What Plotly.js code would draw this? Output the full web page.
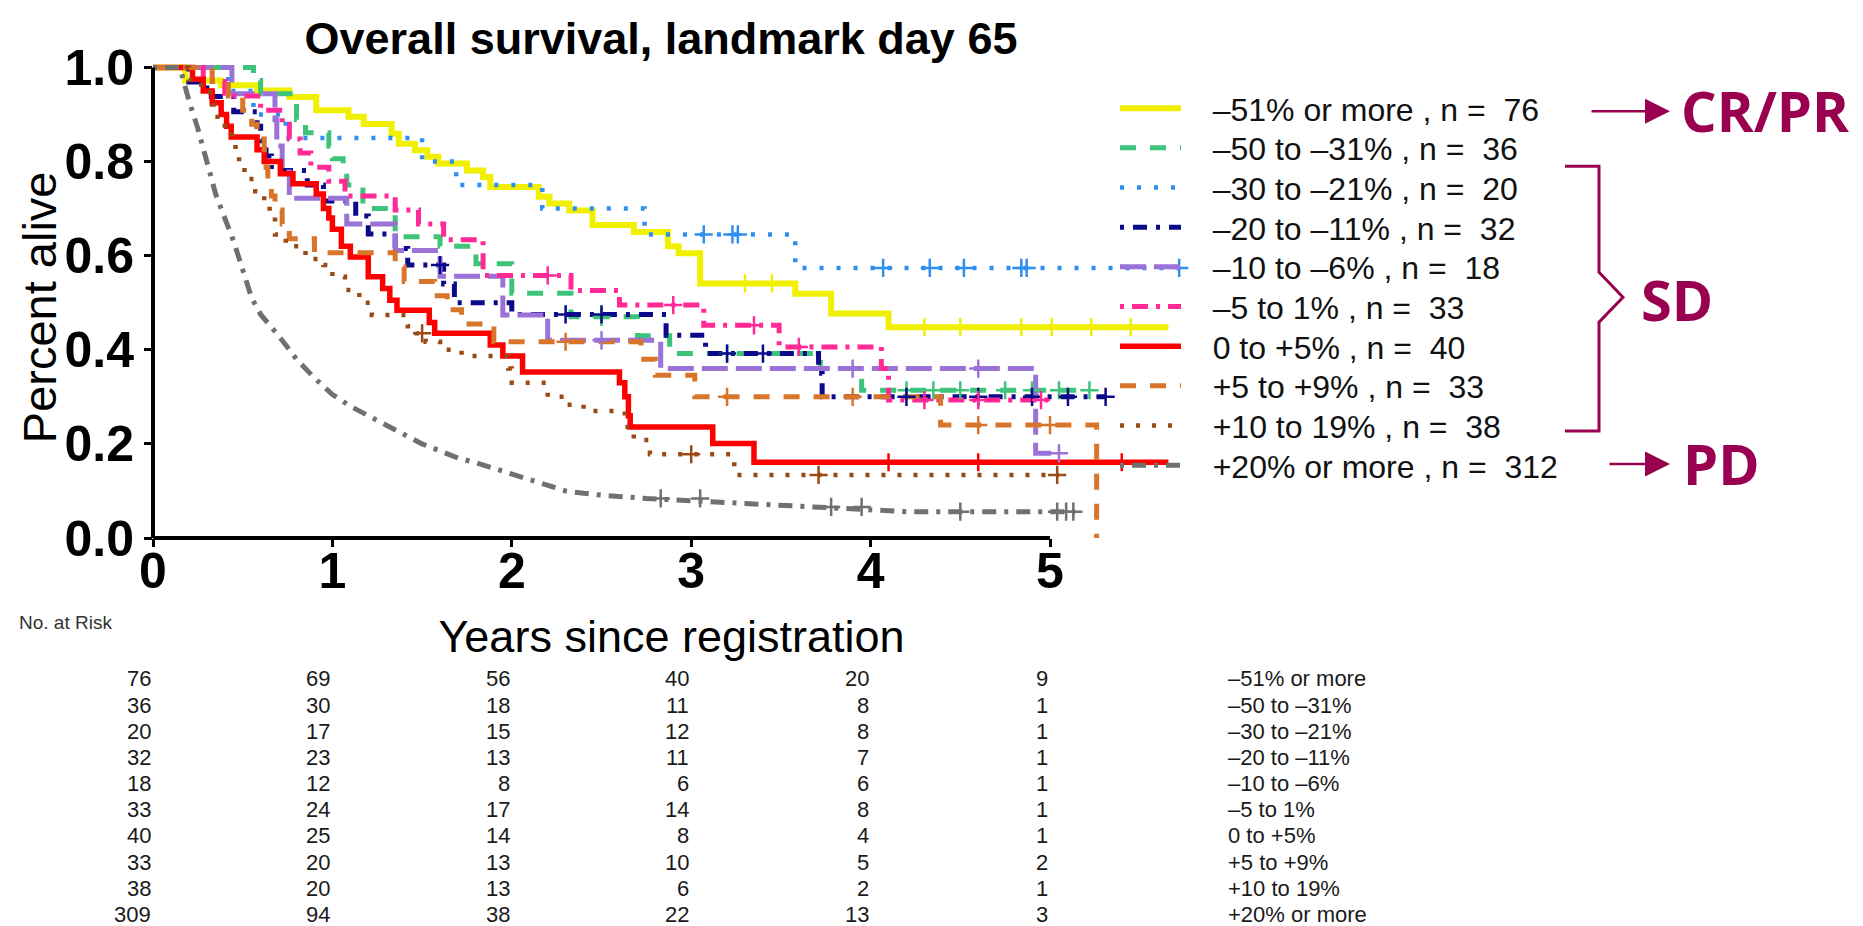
<!DOCTYPE html>
<html><head><meta charset="utf-8">
<script src="https://cdn.plot.ly/plotly-3.0.1.min.js"></script>
<style>html,body{margin:0;padding:0;background:#fff}</style>
</head><body><div id="chart" style="width:1863px;height:926px"></div>
<script>
// ---------- data ----------
const groups = ["–51% or more", "–50 to –31%", "–30 to –21%", "–20 to –11%", "–10 to –6%",
                "–5 to 1%", "0 to +5%", "+5 to +9%", "+10 to 19%", "+20% or more"];
const nPatients = [76, 36, 20, 32, 18, 33, 40, 33, 38, 312];

const t_m51 = [0,0.18,0.38,0.58,0.76,0.91,1.09,1.175,1.33,1.37,1.46,1.53,1.59,1.75,1.84,1.88,2.15,2.21,2.32,2.45,2.68,2.87,2.93,3.05,3.58,3.78,4.1,5.66];
const s_m51 = [1,0.972,0.962,0.951,0.937,0.909,0.895,0.88,0.859,0.838,0.824,0.81,0.796,0.781,0.767,0.746,0.725,0.711,0.696,0.665,0.65,0.62,0.605,0.541,0.519,0.477,0.448,0.448];
const c_m51 = [3.3, 3.45, 4.3, 4.5, 4.84, 5.01, 5.23, 5.45];

const t_m50 = [0,0.56,0.6,0.78,0.8,0.85,0.98,1.0,1.06,1.08,1.17,1.35,1.6,1.8,2.0,2.33,2.7,2.88,3.72,3.95,5.22];
const s_m50 = [1,0.972,0.944,0.917,0.889,0.861,0.833,0.806,0.778,0.75,0.70,0.64,0.62,0.583,0.52,0.47,0.43,0.392,0.36,0.314,0.314];
const c_m50 = [2.5, 3.2, 4.2, 4.35, 4.5, 4.75, 4.9, 5.05, 5.22];

const t_m30 = [0,0.42,0.56,0.74,1.5,1.69,2.17,2.74,3.58,5.72];
const s_m30 = [1,0.95,0.90,0.85,0.80,0.75,0.70,0.645,0.574,0.574];
const c_m30 = [3.07, 3.23, 3.26, 4.07, 4.33, 4.52, 4.84, 4.87, 5.72];

const t_m20 = [0,0.2,0.3,0.45,0.58,0.6,0.63,0.66,0.86,0.95,1.13,1.2,1.35,1.42,1.62,1.68,2.0,2.86,3.08,3.71,3.73,5.31];
const s_m20 = [1,0.969,0.938,0.906,0.875,0.844,0.812,0.781,0.75,0.716,0.684,0.646,0.615,0.58,0.54,0.50,0.475,0.431,0.392,0.35,0.30,0.30];
const c_m20 = [1.6, 2.3, 2.5, 3.2, 3.4, 4.2, 4.6, 4.9, 5.1, 5.31];

const t_m10 = [0,0.44,0.68,0.69,0.72,0.76,1.08,1.35,1.6,1.95,2.2,2.83,4.92,5.05];
const s_m10 = [1,0.944,0.889,0.833,0.778,0.722,0.667,0.611,0.556,0.474,0.42,0.36,0.18,0.18];
const c_m10 = [2.5, 3.9, 4.6, 5.05];

const t_m5 = [0,0.28,0.40,0.6,0.72,0.76,0.82,0.88,0.98,1.07,1.35,1.48,1.62,1.84,2.33,2.6,3.07,3.49,4.06,4.1,5.0];
const s_m5 = [1,0.97,0.939,0.909,0.879,0.848,0.818,0.788,0.758,0.727,0.697,0.667,0.634,0.558,0.526,0.495,0.452,0.406,0.36,0.293,0.293];
const c_m5 = [2.2, 2.9, 3.35, 3.6, 4.3, 4.6, 4.95];

const t_p0 = [0,0.22,0.28,0.33,0.38,0.41,0.436,0.58,0.62,0.71,0.78,0.91,0.95,0.98,1.0,1.05,1.1,1.2,1.28,1.32,1.36,1.54,1.57,1.88,1.95,2.06,2.6,2.63,2.65,2.66,3.12,3.35,5.66];
const s_p0 = [1,0.975,0.95,0.925,0.90,0.875,0.852,0.825,0.80,0.774,0.753,0.731,0.70,0.68,0.656,0.62,0.597,0.555,0.53,0.505,0.484,0.458,0.435,0.41,0.387,0.353,0.33,0.30,0.26,0.236,0.201,0.161,0.161];
const c_p0 = [4.1, 4.6, 5.4];

const t_p5 = [0,0.33,0.42,0.5,0.55,0.58,0.62,0.63,0.64,0.66,0.68,0.72,0.76,0.9,1.35,1.4,1.57,1.64,1.72,1.9,2.72,2.8,3.02,4.39,5.26];
const s_p5 = [1,0.97,0.939,0.909,0.879,0.848,0.818,0.788,0.758,0.727,0.697,0.667,0.636,0.606,0.576,0.545,0.515,0.485,0.455,0.417,0.38,0.346,0.30,0.24,0];
const c_p5 = [2.3, 3.2, 3.9, 4.6, 5.0];

const t_p10 = [0,0.2,0.27,0.33,0.36,0.40,0.44,0.46,0.48,0.51,0.57,0.62,0.65,0.68,0.74,0.85,0.95,1.0,1.07,1.15,1.22,1.42,1.47,1.52,1.6,1.72,1.98,2.0,2.2,2.3,2.4,2.63,2.68,2.77,3.24,5.05];
const s_p10 = [1,0.974,0.947,0.921,0.895,0.868,0.842,0.816,0.79,0.763,0.737,0.71,0.684,0.645,0.62,0.593,0.58,0.555,0.527,0.50,0.474,0.45,0.435,0.417,0.40,0.387,0.36,0.33,0.30,0.283,0.27,0.236,0.208,0.178,0.134,0.134];
const c_p10 = [1.5, 3.0, 3.71, 5.04];

const t_p20 = [0,0.15,0.2,0.25,0.3,0.35,0.4,0.45,0.5,0.55,0.6,0.7,0.8,0.9,1.0,1.1,1.2,1.3,1.4,1.5,1.6,1.7,1.8,1.9,2.0,2.1,2.2,2.3,2.4,2.5,2.75,3.1,3.7,4.2,5.14];
const s_p20 = [1,1,0.93,0.87,0.80,0.73,0.68,0.63,0.57,0.51,0.475,0.43,0.38,0.34,0.305,0.28,0.26,0.24,0.22,0.20,0.185,0.17,0.16,0.148,0.135,0.123,0.11,0.10,0.095,0.091,0.084,0.077,0.066,0.056,0.056];
const c_p20 = [2.83, 3.05, 3.78, 3.95, 4.5, 5.04, 5.09, 5.13];

// numbers at risk at years 0..5
const riskYears = [0, 1, 2, 3, 4, 5];
const risk_m51 = [76, 69, 56, 40, 20, 9];
const risk_m50 = [36, 30, 18, 11, 8, 1];
const risk_m30 = [20, 17, 15, 12, 8, 1];
const risk_m20 = [32, 23, 13, 11, 7, 1];
const risk_m10 = [18, 12, 8, 6, 6, 1];
const risk_m5  = [33, 24, 17, 14, 8, 1];
const risk_p0  = [40, 25, 14, 8, 4, 1];
const risk_p5  = [33, 20, 13, 10, 5, 2];
const risk_p10 = [38, 20, 13, 6, 2, 1];
const risk_p20 = [309, 94, 38, 22, 13, 3];

const xTicks = [0, 1, 2, 3, 4, 5];
const yTicks = [0, 0.2, 0.4, 0.6, 0.8, 1.0];

// ---------- styles ----------
const times = [t_m51, t_m50, t_m30, t_m20, t_m10, t_m5, t_p0, t_p5, t_p10, t_p20];
const surv  = [s_m51, s_m50, s_m30, s_m20, s_m10, s_m5, s_p0, s_p5, s_p10, s_p20];
const cens  = [c_m51, c_m50, c_m30, c_m20, c_m10, c_m5, c_p0, c_p5, c_p10, c_p20];
const risks = [risk_m51, risk_m50, risk_m30, risk_m20, risk_m10, risk_m5, risk_p0, risk_p5, risk_p10, risk_p20];
const colors = ["#f0f000", "#3dc47a", "#2f8ff0", "#0a0a8a", "#9b72d8", "#ff2a96", "#ff0000", "#d8752a", "#9a4a14", "#707070"];
const dashes = ["solid", "16px,14px", "4px,13px", "4px,9px,14px,9px", "26px,8px", "4px,8px,16px,8px", "solid", "16px,14px", "4px,12px", "4px,8px,14px,8px"];
const widths = [6, 5, 4.5, 5, 5, 5, 5.5, 5, 4.5, 5];

// geometry helpers (pixel -> paper)
const W = 1863, H = 926;
const L = 153, R = 1190, B = 538, YPX = 471; // y=0 at 538px, 1 unit = 471px
const XPX = 179.4;
const topPx = B - 1.02 * YPX;
const px2x = X => (X - L) / (R - L);
const px2y = Y => (B - Y) / (B - topPx);
const yr2x = t => px2x(L + t * XPX);

// value of a step curve at time t (last step at or before t)
function stepAt(ts, ss, t) { let v = ss[0]; for (let k = 0; k < ts.length; k++) { if (ts[k] <= t) v = ss[k]; } return v; }

const pad = "\u00a0\u00a0\u00a0";
const traces = [];
groups.forEach((g, i) => {
  traces.push({
    type: "scatter", mode: "lines",
    x: times[i], y: surv[i],
    name: pad + g + " , n =\u00a0 " + nPatients[i],
    legend: i === 0 ? "legend" : "legend" + (i + 1),
    legendgroup: "g" + i,
    line: {color: colors[i], width: widths[i], dash: dashes[i], shape: i === 9 ? "linear" : "hv"},
    hoverinfo: "x+y+name"
  });
});
groups.forEach((g, i) => {
  traces.push({
    type: "scatter", mode: "markers", showlegend: false, legendgroup: "g" + i,
    legend: i === 0 ? "legend" : "legend" + (i + 1),
    x: cens[i], y: cens[i].map(t => stepAt(times[i], surv[i], t)),
    name: g + " (censored)",
    marker: {symbol: "cross-thin", size: 13, color: colors[i], line: {color: colors[i], width: 2.5}},
    hoverinfo: "x+y+name"
  });
});

const annotations = [];
const txtFont = {family: "Liberation Sans Narrow, Liberation Sans, Arial, sans-serif", size: 22, color: "#1a1a1a"};
risks.forEach((row, i) => {
  const y = px2y(679 + 26.2 * i);
  row.forEach((v, j) => {
    annotations.push({xref: "paper", yref: "paper", x: yr2x(riskYears[j]), y: y, xanchor: "right", yanchor: "middle",
      text: String(v), showarrow: false, font: txtFont});
  });
  annotations.push({xref: "paper", yref: "paper", x: px2x(1226), y: y, xanchor: "left", yanchor: "middle",
    text: groups[i], showarrow: false, font: txtFont});
});
annotations.push({xref: "paper", yref: "paper", x: px2x(17), y: px2y(623), xanchor: "left", yanchor: "middle",
  text: "No. at Risk", showarrow: false, font: {family: "Liberation Sans, Arial, sans-serif", size: 19, color: "#333"}});
// y-axis title
annotations.push({xref: "paper", yref: "paper", x: px2x(39), y: px2y(307), xanchor: "center", yanchor: "middle", textangle: -90,
  text: "Percent alive", showarrow: false, font: {family: "Liberation Sans, Arial, sans-serif", size: 47, color: "#000"}});

const maroon = "#990050";
const bigFont = {family: "Open Sans, Noto Sans, sans-serif", size: 56, color: maroon, weight: 700};
annotations.push({xref: "paper", yref: "paper", x: px2x(1679), y: px2y(110), xanchor: "left", yanchor: "middle", text: "CR/PR", showarrow: false, font: bigFont});
annotations.push({xref: "paper", yref: "paper", x: px2x(1639), y: px2y(299), xanchor: "left", yanchor: "middle", text: "SD", showarrow: false, font: bigFont});
annotations.push({xref: "paper", yref: "paper", x: px2x(1681), y: px2y(463), xanchor: "left", yanchor: "middle", text: "PD", showarrow: false, font: bigFont});
annotations.push({xref: "paper", yref: "paper", x: px2x(1670), y: px2y(111), text: "", showarrow: true,
  ax: -80, ay: 0, arrowhead: 2, arrowsize: 2, arrowwidth: 2.5, arrowcolor: maroon});
annotations.push({xref: "paper", yref: "paper", x: px2x(1670), y: px2y(464), text: "", showarrow: true,
  ax: -62, ay: 0, arrowhead: 2, arrowsize: 2, arrowwidth: 2.5, arrowcolor: maroon});

const bracketPts = [[1565,166],[1599,166],[1599,272],[1623,297],[1599,322],[1599,431],[1565,431]];
const bracketPath = bracketPts.map((p, k) => (k ? "L" : "M") + px2x(p[0]).toFixed(5) + "," + px2y(p[1]).toFixed(5)).join(" ");

const shapes = [
  {type: "line", xref: "x", yref: "paper", x0: 0, x1: 5, y0: 0, y1: 0, line: {color: "#000", width: 4}},
  {type: "line", xref: "paper", yref: "y", x0: 0, x1: 0, y0: 0, y1: 1, line: {color: "#000", width: 4}},
  {type: "path", xref: "paper", yref: "paper", path: bracketPath, line: {color: maroon, width: 3}}
];

const tickFont = {family: "Liberation Sans, Arial, sans-serif", size: 50, color: "#000", weight: 700};

const layout = {
  width: W, height: H,
  margin: {l: L, r: W - R, t: topPx, b: H - B, autoexpand: false},
  paper_bgcolor: "#fff", plot_bgcolor: "#fff",
  showlegend: true,
  title: {text: "Overall survival, landmark day 65", font: {family: "Liberation Sans, Arial, sans-serif", size: 45, color: "#000", weight: 700},
          xref: "paper", x: px2x(661), xanchor: "center", yref: "container", y: 1 - 38 / H, yanchor: "middle"},
  xaxis: {range: [0, (R - L) / XPX], tickvals: xTicks, ticktext: xTicks.map(String), ticks: "outside", ticklen: 8, tickwidth: 3, tickcolor: "#000",
          showgrid: false, zeroline: false, showline: false, automargin: false, tickfont: tickFont, ticklabelstandoff: -19,
          title: {text: "Years since registration", font: {family: "Liberation Sans, Arial, sans-serif", size: 45, color: "#000"}, standoff: 22}},
  yaxis: {range: [0, 1.02], tickvals: yTicks, ticktext: yTicks.map(v => v.toFixed(1)), ticks: "outside", ticklen: 8, tickwidth: 3, tickcolor: "#000",
          showgrid: false, zeroline: false, showline: false, automargin: false, tickfont: tickFont},
  shapes: shapes,
  annotations: annotations
};
const legFont = {family: "Liberation Sans, Arial, sans-serif", size: 32, color: "#111"};
groups.forEach((g, i) => {
  const key = i === 0 ? "legend" : "legend" + (i + 1);
  layout[key] = {x: px2x(1115), xanchor: "left", y: px2y(108 + 39.7 * i), yanchor: "middle",
                 bgcolor: "rgba(0,0,0,0)", font: legFont, itemwidth: 61, borderwidth: 0};
});

Plotly.newPlot("chart", traces, layout, {displayModeBar: false});
</script>
</body></html>
